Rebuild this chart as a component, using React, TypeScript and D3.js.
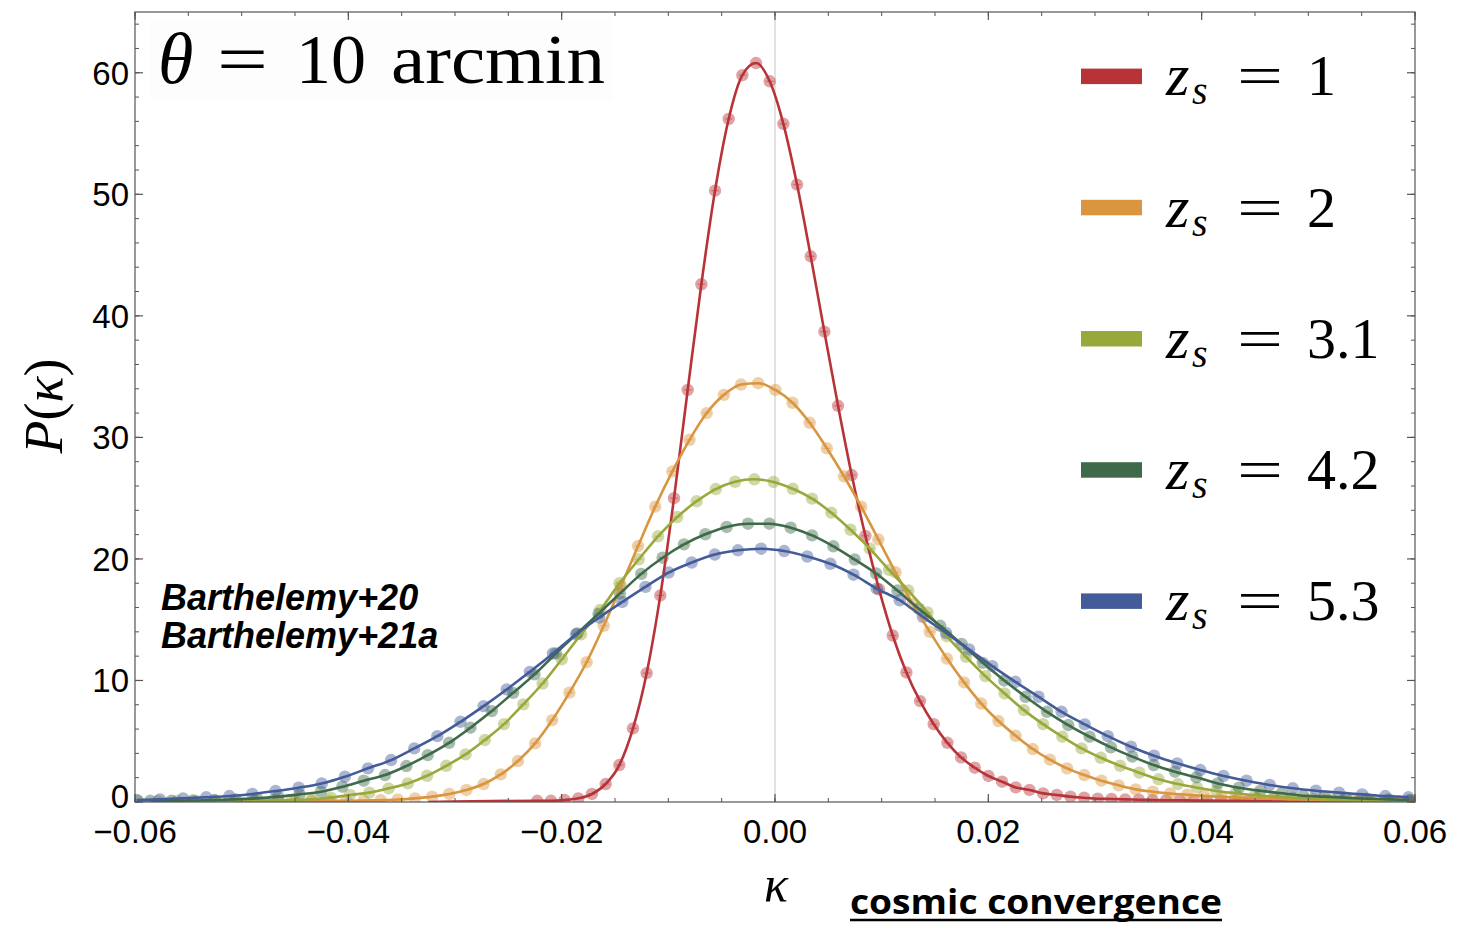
import React from 'react';
import * as d3 from 'd3';

// ---------- data ----------
const seriesLabels = ['1', '2', '3.1', '4.2', '5.3'];
const seriesColors = ['#b83338', '#d9953f', '#99a83b', '#3e6a4a', '#435b98'];
// kappa of first bin centre and bin width for each source redshift
const binStart = [-0.022284, -0.046622, -0.059691, -0.058575, -0.059831];
const binStep = [0.0012816, 0.0016088, 0.0018047, 0.0020016, 0.0021675];
// where the theory line starts on the left (null = at first point)
const lineStart: (number | null)[] = [-0.0325, -0.05, null, null, null];

const pZs1 = [
  0.10, 0.10, 0.16, 0.30, 0.66, 1.48, 3.04, 6.06, 10.6, 17.0,
  25.0, 33.9, 42.6, 50.3, 56.2, 59.8, 60.8, 59.3, 55.8, 50.8,
  44.9, 38.7, 32.6, 26.9, 21.9, 17.5, 13.7, 10.66, 8.3, 6.4,
  4.87, 3.67, 2.82, 2.14, 1.67, 1.2, 0.99, 0.71, 0.58, 0.44,
  0.35, 0.27, 0.25, 0.22, 0.19, 0.16, 0.15, 0.14, 0.12, 0.11,
  0.10, 0.09, 0.09, 0.08, 0.07, 0.07, 0.06, 0.06, 0.05, 0.05,
  0.05, 0.04, 0.04, 0.04, 0.03,
];
const pZs2 = [
  0.08, 0.08, 0.09, 0.10, 0.10, 0.12, 0.15, 0.20, 0.30, 0.44,
  0.66, 0.99, 1.48, 2.27, 3.37, 4.82, 6.74, 9.0, 11.5, 14.5,
  17.75, 21.06, 24.3, 27.2, 29.8, 32.0, 33.5, 34.35, 34.46, 33.9,
  32.85, 31.2, 29.1, 26.8, 24.3, 21.6, 18.9, 16.3, 14.0, 11.8,
  9.84, 8.1, 6.66, 5.45, 4.36, 3.48, 2.77, 2.22, 1.75, 1.37,
  1.04, 0.85, 0.70, 0.60, 0.50, 0.42, 0.36, 0.30, 0.26, 0.22,
  0.19, 0.16, 0.14, 0.12, 0.10, 0.09, 0.08,
];
const pZs31 = [
  0.08, 0.08, 0.09, 0.10, 0.10, 0.11, 0.12, 0.14, 0.17, 0.22,
  0.36, 0.58, 0.77, 1.12, 1.53, 2.16, 2.98, 3.92, 5.1, 6.41,
  8.03, 9.75, 11.75, 13.8, 15.8, 18.0, 19.97, 21.86, 23.45, 24.74,
  25.75, 26.35, 26.55, 26.33, 25.77, 24.96, 23.8, 22.4, 20.85, 19.1,
  17.4, 15.6, 13.64, 11.94, 10.36, 8.93, 7.56, 6.41, 5.37, 4.41,
  3.64, 2.98, 2.41, 1.87, 1.48, 1.18, 0.90, 0.72, 0.55, 0.44,
  0.35, 0.27, 0.22, 0.19, 0.16, 0.14, 0.12,
];
const pZs42 = [
  0.10, 0.10, 0.12, 0.16, 0.22, 0.30, 0.44, 0.63, 0.85, 1.26,
  1.75, 2.22, 2.96, 3.86, 4.87, 6.11, 7.48, 8.98, 10.5, 12.22,
  13.87, 15.5, 17.15, 18.77, 20.1, 21.2, 22.03, 22.63, 22.9, 22.9,
  22.57, 21.94, 21.04, 19.95, 18.8, 17.4, 15.9, 14.5, 13.0, 11.45,
  10.0, 8.66, 7.42, 6.33, 5.37, 4.5, 3.73, 3.04, 2.49, 2.03,
  1.53, 1.18, 0.93, 0.72, 0.52, 0.44, 0.35, 0.27, 0.22, 0.16,
];
const pZs53 = [
  0.16, 0.22, 0.30, 0.39, 0.49, 0.66, 0.90, 1.18, 1.53, 2.08,
  2.77, 3.45, 4.41, 5.42, 6.6, 7.89, 9.26, 10.71, 12.22, 13.8,
  15.18, 16.46, 17.7, 18.88, 19.7, 20.36, 20.71, 20.84, 20.65, 20.2,
  19.6, 18.7, 17.56, 16.6, 15.23, 13.91, 12.55, 11.18, 9.89, 8.66,
  7.42, 6.39, 5.42, 4.55, 3.81, 3.18, 2.63, 2.14, 1.75, 1.4,
  1.13, 0.93, 0.77, 0.63, 0.49, 0.39,
];
const seriesValues = [pZs1, pZs2, pZs31, pZs42, pZs53];

const xDomain = [-0.06, 0.06];
const yDomain = [0, 65];
const yLabels = ['0', '10', '20', '30', '40', '50', '60'];
const refs = ['Barthelemy+20', 'Barthelemy+21a'];

// ---------- layout ----------
const W = 1465, H = 926;
const L = 135, R = 1415, T = 12, B = 802;

export default function App() {
  const x = d3.scaleLinear().domain(xDomain).range([L, R]);
  const y = d3.scaleLinear().domain(yDomain).range([B, T]);

  const series = seriesValues.map((vals, s) =>
    vals.map((v, i) => [binStart[s] + i * binStep[s], v] as [number, number])
  );

  const line = d3
    .line<[number, number]>()
    .x((d) => x(d[0]))
    .y((d) => y(d[1]))
    .curve(d3.curveMonotoneX);

  const xMajor = x.ticks(6);
  const xMinor = x.ticks(24);
  const yMajor = y.ticks(6).filter((v) => v <= 60);
  const yMinor = y.ticks(30);
  const fmtX = d3.format('.2f');

  const axisColor = '#555';
  const serif = '"Liberation Serif", "DejaVu Serif", serif';
  const sans = '"Liberation Sans", Arial, Helvetica, sans-serif';

  const legendY0 = 76.3, legendDy = 131.2;

  return (
    <svg
      width={W}
      height={H}
      style={{ position: 'absolute', left: 0, top: 0, background: '#fff' }}
      xmlns="http://www.w3.org/2000/svg"
    >
      <defs>
        <clipPath id="plotclip">
          <rect x={L} y={T} width={R - L} height={B - T} />
        </clipPath>
      </defs>
      <rect x={0} y={0} width={W} height={H} fill="#fff" />

      {/* zero line */}
      <line x1={x(0)} x2={x(0)} y1={T} y2={B} stroke="#cfcfcf" strokeWidth={1.2} />

      {/* title box (very faint) */}
      <rect x={150} y={18} width={463} height={82} fill="#fdfdfd" />

      <g clipPath="url(#plotclip)">
        {/* dots */}
        {series.map((pts, s) => (
          <g key={'d' + s}>
            {pts.map((p, i) => (
              <g key={i}>
                <circle cx={x(p[0])} cy={y(p[1])} r={6.2} fill={seriesColors[s]} fillOpacity={0.45} />
                <line
                  x1={x(p[0]) - 3.8}
                  x2={x(p[0]) + 3.8}
                  y1={y(p[1])}
                  y2={y(p[1])}
                  stroke={seriesColors[s]}
                  strokeOpacity={0.45}
                  strokeWidth={1.3}
                />
              </g>
            ))}
          </g>
        ))}
        {/* lines */}
        {series.map((pts, s) => {
          const ls = lineStart[s];
          const data = ls !== null ? [[ls, 0] as [number, number], ...pts] : pts;
          return (
            <path
              key={'l' + s}
              d={line(data) || ''}
              fill="none"
              stroke={seriesColors[s]}
              strokeWidth={2.6}
            />
          );
        })}
      </g>

      {/* frame */}
      <rect x={L} y={T} width={R - L} height={B - T} fill="none" stroke={axisColor} strokeWidth={1.2} />

      {/* ticks */}
      {xMinor.map((v, i) => (
        <g key={'xm' + i}>
          <line x1={x(v)} x2={x(v)} y1={B} y2={B - 4} stroke={axisColor} />
          <line x1={x(v)} x2={x(v)} y1={T} y2={T + 4} stroke={axisColor} />
        </g>
      ))}
      {xMajor.map((v, i) => (
        <g key={'xM' + i}>
          <line x1={x(v)} x2={x(v)} y1={B} y2={B - 8} stroke={axisColor} strokeWidth={1.2} />
          <line x1={x(v)} x2={x(v)} y1={T} y2={T + 8} stroke={axisColor} strokeWidth={1.2} />
          <text
            x={x(v)}
            y={843}
            textAnchor="middle"
            fontFamily={sans}
            fontSize={33}
            fill="#000"
          >
            {fmtX(v)}
          </text>
        </g>
      ))}
      {yMinor.map((v, i) => (
        <g key={'ym' + i}>
          <line x1={L} x2={L + 4} y1={y(v)} y2={y(v)} stroke={axisColor} />
          <line x1={R} x2={R - 4} y1={y(v)} y2={y(v)} stroke={axisColor} />
        </g>
      ))}
      {yMajor.map((v, i) => (
        <g key={'yM' + i}>
          <line x1={L} x2={L + 8} y1={y(v)} y2={y(v)} stroke={axisColor} strokeWidth={1.2} />
          <line x1={R} x2={R - 8} y1={y(v)} y2={y(v)} stroke={axisColor} strokeWidth={1.2} />
          <text
            x={129}
            y={y(v) + (v === 0 ? 6 : 12)}
            textAnchor="end"
            fontFamily={sans}
            fontSize={33}
            fill="#000"
          >
            {yLabels[i]}
          </text>
        </g>
      ))}

      {/* title */}
      <g fontFamily={serif} fill="#000">
        <text x={158} y={83} fontSize={72} fontStyle="italic">θ</text>
        <text x={217} y={83} fontSize={70} textLength={51} lengthAdjust="spacingAndGlyphs">=</text>
        <text x={296} y={83} fontSize={70}>10</text>
        <text x={391} y={83} fontSize={70} textLength={214} lengthAdjust="spacingAndGlyphs">arcmin</text>
      </g>

      {/* legend */}
      {seriesLabels.map((lab, i) => {
        const cy = legendY0 + i * legendDy;
        return (
          <g key={'lg' + i} fontFamily={serif} fill="#000">
            <rect x={1081} y={cy - 7.7} width={61} height={15.5} fill={seriesColors[i]} />
            <text x={1166} y={cy + 19} fontSize={60} fontStyle="italic">z</text>
            <text x={1192} y={cy + 28} fontSize={40} fontStyle="italic">s</text>
            <text x={1237} y={cy + 19} fontSize={58} textLength={46} lengthAdjust="spacingAndGlyphs">=</text>
            <text x={1307} y={cy + 19} fontSize={58}>{lab}</text>
          </g>
        );
      })}

      {/* references */}
      {refs.map((r, i) => (
        <text
          key={'r' + i}
          x={161}
          y={610 + i * 38}
          fontFamily={sans}
          fontSize={36}
          fontWeight="bold"
          fontStyle="italic"
          fill="#000"
        >
          {r}
        </text>
      ))}

      {/* axis labels */}
      <text x={776} y={901} textAnchor="middle" fontFamily={serif} fontSize={50} fontStyle="italic">κ</text>
      <text
        transform="translate(62,406) rotate(-90)"
        textAnchor="middle"
        fontFamily={serif}
        fontSize={54}
      >
        <tspan fontStyle="italic">P</tspan>
        <tspan>(</tspan>
        <tspan fontStyle="italic">κ</tspan>
        <tspan>)</tspan>
      </text>

      <text
        x={850}
        y={914}
        fontFamily='"Open Sans", sans-serif'
        fontWeight="bold"
        fontSize={34}
        textLength={372}
        lengthAdjust="spacingAndGlyphs"
        fill="#000"
      >
        cosmic convergence
      </text>
      <line x1={850} x2={1222} y1={920} y2={920} stroke="#000" strokeWidth={2.5} />
    </svg>
  );
}
